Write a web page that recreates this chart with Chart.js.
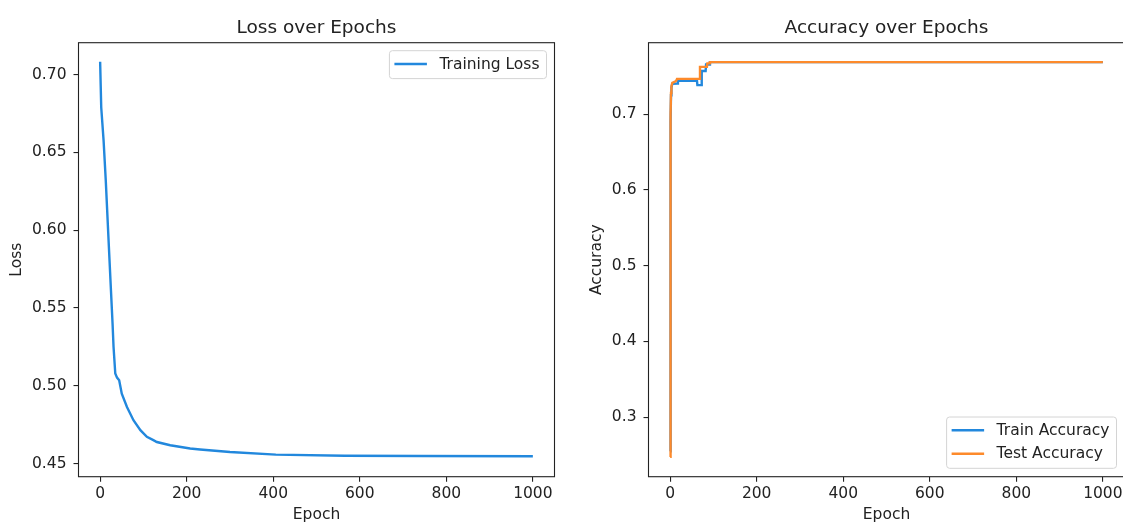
<!DOCTYPE html>
<html>
<head>
<meta charset="utf-8">
<script src="https://cdn.jsdelivr.net/npm/chart.js@4.4.1/dist/chart.umd.min.js"></script>
<style>
  html, body { margin: 0; padding: 0; background: #fff; overflow: hidden; width: 1123px; height: 522px; }
  canvas { position: absolute; top: 0; }
  #lossChart { left: 0; }
  #accChart { left: 570px; }
</style>
</head>
<body>
<canvas id="lossChart" width="570" height="524"></canvas>
<canvas id="accChart" width="570" height="524"></canvas>
<script>
// values
const lossEpochs = [0, 2.5, 8, 13, 19.5, 25, 28.7, 31, 35, 39, 44, 50, 62, 77, 93, 108, 123, 131, 162, 208, 231, 300, 406, 565, 742, 1000];
const lossValues = [0.7083, 0.679, 0.6576, 0.632, 0.5934, 0.5613, 0.540, 0.5249, 0.5078, 0.5052, 0.5035, 0.4949, 0.4863, 0.4778, 0.4714, 0.4671, 0.4650, 0.4638, 0.4617, 0.4596, 0.4590, 0.4574, 0.4557, 0.4550, 0.4548, 0.4546];

const trainEpochs = [0, 1, 2, 3, 5, 16, 18, 62, 63, 72, 73, 82, 83, 91, 92, 1000];
const trainAcc = [0.255, 0.69, 0.725, 0.735, 0.740, 0.7405, 0.744, 0.744, 0.7383, 0.7383, 0.757, 0.757, 0.7655, 0.7655, 0.7686, 0.7686];

const testEpochs = [0, 1, 2, 3, 5, 10, 14, 16, 68, 69, 85, 86, 91, 92, 1000];
const testAcc = [0.2476, 0.70, 0.728, 0.737, 0.7413, 0.7425, 0.744, 0.7466, 0.7466, 0.7624, 0.7624, 0.767, 0.767, 0.7686, 0.7686];

const epochTicks = 200;
const blue = '#2288dd';
const orange = '#fd8a2b';
const ink = '#222';
const font = '"DejaVu Sans", sans-serif';
const textSize = 15.5;

function toPoints(xs, ys) {
  return xs.map((x, i) => ({ x: x, y: ys[i] }));
}

// matplotlib style frame, title and legend box
const mplPlugin = {
  id: 'mpl',
  afterDraw(chart, args, opts) {
    const ctx = chart.ctx;
    const a = chart.chartArea;
    ctx.save();
    ctx.strokeStyle = ink;
    ctx.lineWidth = 1.1;
    ctx.strokeRect(a.left, a.top, a.right - a.left, a.bottom - a.top);

    ctx.fillStyle = ink;
    ctx.font = '18.5px ' + font;
    ctx.textAlign = 'center';
    ctx.textBaseline = 'alphabetic';
    ctx.fillText(opts.title, (a.left + a.right) / 2, a.top - 9.4);

    // legend
    ctx.font = textSize + 'px ' + font;
    const sets = chart.data.datasets;
    const textW = Math.max(...sets.map(d => ctx.measureText(d.label).width));
    const w = 50 + textW + 7;
    const h = sets.length * 23.4 + 4.5;
    const x = a.right - 8 - w;
    const y = opts.legendAt === 'top' ? a.top + 8 : a.bottom - 8.4 - h;
    ctx.beginPath();
    ctx.roundRect(x, y, w, h, 3);
    ctx.fillStyle = 'rgba(255,255,255,0.8)';
    ctx.fill();
    ctx.strokeStyle = '#d4d4d4';
    ctx.lineWidth = 1;
    ctx.stroke();
    sets.forEach((d, i) => {
      const cy = y + 13.3 + i * 23.4;
      ctx.strokeStyle = d.borderColor;
      ctx.lineWidth = 2.4;
      ctx.beginPath();
      ctx.moveTo(x + 5, cy);
      ctx.lineTo(x + 37.5, cy);
      ctx.stroke();
      ctx.fillStyle = ink;
      ctx.textAlign = 'left';
      ctx.textBaseline = 'middle';
      ctx.fillText(d.label, x + 50, cy + 0.5);
    });
    ctx.restore();
  }
};

function axisOpts(min, max, step, digits, title, titlePad, isY) {
  return {
    type: 'linear',
    min: min,
    max: max,
    afterFit: isY ? (s) => { s.width = 78.5; } : (s) => { s.height = 47.3; },
    ticks: {
      stepSize: step,
      includeBounds: false,
      autoSkip: false,
      maxRotation: 0,
      color: ink,
      padding: isY ? 7 : 3,
      font: { family: font, size: textSize },
      callback: (v) => digits ? v.toFixed(digits) : String(v)
    },
    grid: { display: true, drawOnChartArea: false, drawTicks: true, tickLength: 5, color: ink, lineWidth: 1.1 },
    border: { display: false },
    title: {
      display: true,
      text: title,
      color: ink,
      font: { family: font, size: textSize },
      padding: isY ? { top: titlePad, bottom: 0 } : { top: 0, bottom: 0 }
    }
  };
}

function baseOptions(yMin, yMax, yStep, yDigits, yTitle, yTitlePad, title, legendAt) {
  return {
    responsive: false,
    animation: false,
    devicePixelRatio: 1,
    layout: { padding: { top: 42.7, right: 15.5, left: 0, bottom: 0 } },
    elements: { point: { radius: 0 }, line: { tension: 0, borderWidth: 2.4 } },
    scales: {
      x: axisOpts(-50, 1050, epochTicks, 0, 'Epoch', 0, false),
      y: axisOpts(yMin, yMax, yStep, yDigits, yTitle, yTitlePad, true)
    },
    plugins: {
      legend: { display: false },
      tooltip: { enabled: false },
      mpl: { title: title, legendAt: legendAt }
    }
  };
}

new Chart(document.getElementById('lossChart').getContext('2d'), {
  type: 'line',
  data: {
    datasets: [{
      label: 'Training Loss',
      data: toPoints(lossEpochs, lossValues),
      borderColor: blue,
      backgroundColor: blue
    }]
  },
  options: baseOptions(0.4415, 0.7205, 0.05, 2, 'Loss', 7.7, 'Loss over Epochs', 'top'),
  plugins: [mplPlugin]
});

new Chart(document.getElementById('accChart').getContext('2d'), {
  type: 'line',
  data: {
    datasets: [
      {
        label: 'Train Accuracy',
        data: toPoints(trainEpochs, trainAcc),
        borderColor: blue,
        backgroundColor: blue,
        order: 1
      },
      {
        label: 'Test Accuracy',
        data: toPoints(testEpochs, testAcc),
        borderColor: orange,
        backgroundColor: orange,
        order: 0
      }
    ]
  },
  options: baseOptions(0.2215, 0.7943, 0.1, 1, 'Accuracy', 17.7, 'Accuracy over Epochs', 'bottom'),
  plugins: [mplPlugin]
});
</script>
</body>
</html>
